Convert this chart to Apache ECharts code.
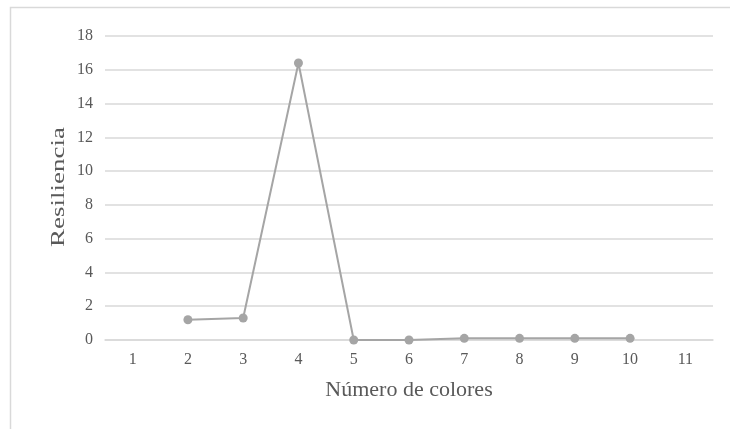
<!DOCTYPE html>
<html>
<head>
<meta charset="utf-8">
<script src="https://cdn.jsdelivr.net/npm/echarts@6/dist/echarts.min.js"></script>
<style>
  html, body { margin: 0; padding: 0; background: #fff; }
  #chart { width: 730px; height: 429px; }
</style>
</head>
<body>
<div id="chart"></div>
<script>
// Number of colours on the x axis, resilience on the y axis
const categories = ['1', '2', '3', '4', '5', '6', '7', '8', '9', '10', '11'];
const resiliencia = [null, 1.2, 1.3, 16.4, 0, 0, 0.1, 0.1, 0.1, 0.1, null];
const yTicks = { min: 0, max: 18, interval: 2 };
const xTitle = 'Número de colores';
const yTitle = 'Resiliencia';

const font = '"Liberation Serif", "DejaVu Serif", serif';
const chart = echarts.init(document.getElementById('chart'));

chart.setOption({
  backgroundColor: '#ffffff',
  animation: false,
  textStyle: { fontFamily: font },
  graphic: [
    {
      type: 'rect',
      shape: { x: 10.5, y: 7.5, width: 740, height: 440 },
      style: { fill: 'none', stroke: '#d9d9d9', lineWidth: 1.5 },
      silent: true
    },
    {
      // vertical axis title, drawn tall and narrow
      type: 'text',
      x: 59,
      y: 187,
      rotation: Math.PI / 2,
      scaleX: 1.5,
      scaleY: 1,
      style: {
        text: yTitle,
        fontFamily: font,
        fontSize: 18,
        fill: '#595959',
        align: 'center',
        verticalAlign: 'middle'
      },
      silent: true
    }
  ],
  grid: { left: 105, right: 17, top: 36, bottom: 89 },
  xAxis: {
    type: 'category',
    data: categories,
    boundaryGap: true,
    name: xTitle,
    nameLocation: 'middle',
    nameGap: 39,
    nameTextStyle: { fontFamily: font, fontSize: 22, color: '#595959' },
    axisLine: { show: true, lineStyle: { color: '#d9d9d9', width: 1.5 } },
    axisTick: { show: false },
    axisLabel: { fontFamily: font, fontSize: 16, color: '#595959', margin: 12 }
  },
  yAxis: {
    type: 'value',
    min: yTicks.min,
    max: yTicks.max,
    interval: yTicks.interval,
    axisLine: { show: false },
    axisTick: { show: false },
    axisLabel: { fontFamily: font, fontSize: 16, color: '#595959', margin: 12 },
    splitLine: { lineStyle: { color: '#d9d9d9', width: 1.5 } }
  },
  series: [{
    type: 'line',
    data: resiliencia,
    connectNulls: false,
    symbol: 'circle',
    symbolSize: 9,
    lineStyle: { color: '#a5a5a5', width: 2 },
    itemStyle: { color: '#a5a5a5' }
  }]
});
</script>
</body>
</html>
